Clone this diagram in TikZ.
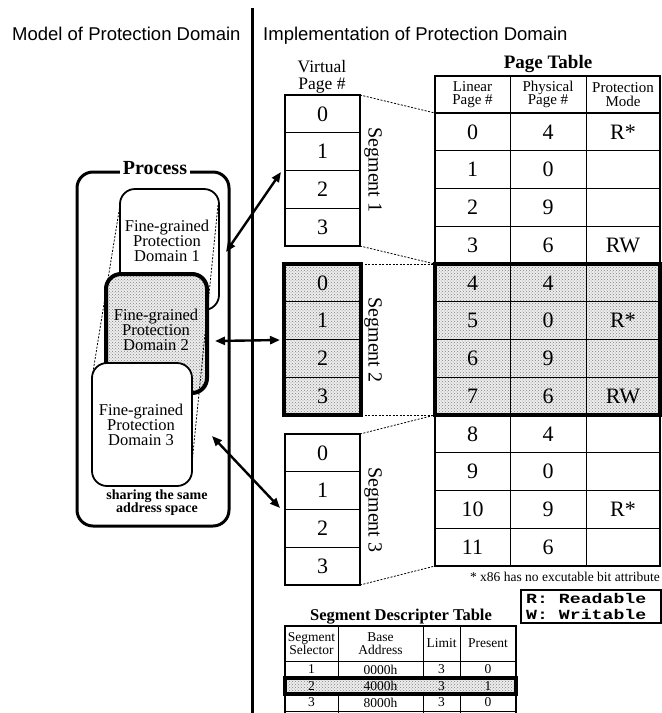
\documentclass[tikz,border=0pt]{standalone}
\usepackage{fontspec}
\setmainfont{Liberation Serif}
\setsansfont{Liberation Sans}
\setmonofont{Liberation Mono}
\newfontfamily\legfont[FakeStretch=1.3]{Liberation Mono}
\usetikzlibrary{arrows.meta,patterns}
\tikzset{
  ttl/.style={font=\sffamily\fontsize{18.5}{22}\selectfont, anchor=base west, inner sep=0pt},
  num/.style={font=\fontsize{22}{24}\selectfont, inner sep=0pt},
  hdr/.style={font=\fontsize{15}{13.5}\selectfont, align=center, inner sep=0pt},
  shd/.style={preaction={fill=black!7}, pattern=crosshatch dots, pattern color=black!50},
  conn/.style={line width=0.8pt, dash pattern=on 2pt off 1.5pt},
  thinline/.style={line width=0.9pt},
  biarrow/.style={line width=2.4pt, {Triangle[length=10pt,width=8pt]}-{Triangle[length=10pt,width=8pt]}},
  dom/.style={font=\fontsize{16.5}{15}\selectfont, align=center, inner sep=0pt},
  seglbl/.style={font=\fontsize{20}{22}\selectfont, rotate=-90, inner sep=0pt},
  sdt/.style={font=\fontsize{13.5}{12.5}\selectfont, align=center, inner sep=0pt},
  legtext/.style={font=\legfont\bfseries\fontsize{14}{16}\selectfont, anchor=base west, inner sep=0pt},
}
\begin{document}
\begin{tikzpicture}[x=1pt,y=-1pt]
\useasboundingbox (0,0) rectangle (662,713);
\clip (0,0) rectangle (662,713);

% titles and divider
\node[ttl] (t1) at (12,40) {Model of Protection Domain};
\node[ttl] (t2) at (263,40) {Implementation of Protection Domain};
\draw[line width=3pt] (252,8) -- (252,713);

% ---------------- left: process model
\draw[line width=3pt, rounded corners=16pt] (77,172) rectangle (229,526);
\node[fill=white, font=\bfseries\fontsize{20}{22}\selectfont, inner sep=3pt] (proc) at (155,168) {Process};

\draw[line width=1.8pt, rounded corners=15pt, fill=white] (120,189) rectangle (219,310);
\node[dom] (d1) at (167,241) {Fine-grained\\Protection\\Domain 1};
\draw[line width=4pt, rounded corners=15pt, shd] (106,274) rectangle (207,393);
\node[dom] (d2) at (156,330) {Fine-grained\\Protection\\Domain 2};
\coordinate (l1) at (120,205); \coordinate (l2) at (92,378);
\coordinate (r1) at (218,205); \coordinate (r2) at (192,463);
\draw[line width=0.8pt, dash pattern=on 2pt off 1.5pt] (l1) -- (l2);
\draw[line width=0.8pt, dash pattern=on 2pt off 1.5pt] (r1) -- (r2);
\draw[line width=1.8pt, rounded corners=15pt, fill=white] (92,363) rectangle (192,486);
\node[dom] (d3) at (141,425) {Fine-grained\\Protection\\Domain 3};
\node[font=\bfseries\fontsize{14}{13}\selectfont, align=center, inner sep=0pt] (share) at (157,503) {sharing the same\\address space};

% ---------------- virtual page segments
\node[font=\fontsize{17.5}{17}\selectfont, align=center, inner sep=0pt] (vp) at (322,77) {Virtual\\Page \#};

% segment 1
\draw[line width=1.8pt] (285,95) rectangle (360,246);
\foreach \i in {1,2,3} \draw[thinline] (285,{95+37.75*\i}) -- (360,{95+37.75*\i});
\foreach \i in {0,...,3} \node[num] (sa\i) at (322.5,{95+37.75*\i+18.9}) {\i};
\node[seglbl] (seg1) at (373,170) {Segment 1};

% segment 2
\path[shd] (284,264) rectangle (361,415);
\foreach \i in {1,2,3} \draw[thinline] (284,{264+37.75*\i}) -- (361,{264+37.75*\i});
\draw[line width=3.5pt] (284,264) rectangle (361,415);
\foreach \i in {0,...,3} \node[num] (sb\i) at (322.5,{264+37.75*\i+18.9}) {\i};
\node[seglbl] (seg2) at (373,340) {Segment 2};

% segment 3
\draw[line width=1.8pt] (285,434) rectangle (360,585);
\foreach \i in {1,2,3} \draw[thinline] (285,{434+37.75*\i}) -- (360,{434+37.75*\i});
\foreach \i in {0,...,3} \node[num] (sc\i) at (322.5,{434+37.75*\i+18.9}) {\i};
\node[seglbl] (seg3) at (373,510) {Segment 3};

% ---------------- page table
\node[font=\bfseries\fontsize{19}{21}\selectfont, inner sep=0pt] (ptt) at (548,64) {Page Table};
\path[shd] (435,264) rectangle (660,415);
\foreach \i in {1,...,11} \draw[thinline] (435,{113+37.75*\i}) -- (660,{113+37.75*\i});
\draw[thinline] (510,76) -- (510,566);
\draw[thinline] (586,76) -- (586,566);
\draw[line width=1.6pt] (435,113) -- (660,113);
\draw[line width=2pt] (435,76) rectangle (660,566);
\draw[line width=3.5pt] (435,264) rectangle (660,415);
\node[hdr] (h1) at (472.5,94.5) {Linear\\Page \#};
\node[hdr] (h2) at (548,94.5) {Physical\\Page \#};
\node[hdr] (h3) at (623,94.5) {Protection\\Mode};
\foreach \l/\p/\m [count=\k from 0] in {0/4/R*,1/0/,2/9/,3/6/RW,4/4/,5/0/R*,6/9/,7/6/RW,8/4/,9/0/,10/9/R*,11/6/} {
  \node[num] (pl\k) at (472.5,{113+37.75*\k+18.9}) {\l};
  \node[num] (pp\k) at (548,{113+37.75*\k+18.9}) {\p};
  \node[num] (pm\k) at (623,{113+37.75*\k+18.9}) {\m};
}

% dashed connectors
\coordinate (s1a) at (360,95);  \coordinate (p1a) at (435,113);
\coordinate (s1b) at (360,246); \coordinate (p1b) at (435,264);
\coordinate (s2a) at (361,264); \coordinate (s2b) at (361,415);
\coordinate (p2b) at (435,415);
\coordinate (s3a) at (360,434); \coordinate (s3b) at (360,585);
\coordinate (p3b) at (435,566);
\draw[conn] (s1a) -- (p1a);
\draw[conn] (s1b) -- (p1b);
\draw[conn] (s2a) -- (p1b);
\draw[conn] (s2b) -- (p2b);
\draw[conn] (s3a) -- (p2b);
\draw[conn] (s3b) -- (p3b);

% arrows
\coordinate (a1s) at (226,252); \coordinate (a1e) at (281,172);
\coordinate (a2s) at (215,341); \coordinate (a2e) at (280,340);
\coordinate (a3s) at (212,436); \coordinate (a3e) at (280,508);
\draw[biarrow] (a1s) -- (a1e);
\draw[biarrow] (a2s) -- (a2e);
\draw[biarrow] (a3s) -- (a3e);

% footnote and legend
\node[font=\fontsize{13.5}{15}\selectfont, anchor=base east, inner sep=0pt] (fn) at (660,581) {* x86 has no excutable bit attribute};
\draw[line width=2pt] (521,590) rectangle (661,623);
\node[legtext] (legR) at (526,603) {R: Readable};
\node[legtext] (legW) at (526,619) {W: Writable};

% segment descriptor table
\node[font=\bfseries\fontsize{16.5}{18}\selectfont, inner sep=0pt] (sdtt) at (401,617) {Segment Descripter Table};
\path[shd] (285,678) rectangle (516,694);
\draw[thinline] (285,661) -- (516,661);
\draw[thinline] (285,711) -- (516,711);
\foreach \x in {338,423,460} {
  \draw[thinline] (\x,626) -- (\x,678);
  \draw[thinline] (\x,694) -- (\x,716);
}
\draw[line width=2pt] (285,716) -- (285,626) -- (516,626) -- (516,716);
\draw[line width=3.5pt] (285,678) rectangle (516,694);
\node[sdt] (c1) at (311.5,643.5) {Segment\\Selector};
\node[sdt] (c2) at (380.5,643.5) {Base\\Address};
\node[sdt] (c3) at (441.5,643.5) {Limit};
\node[sdt] (c4) at (488,643.5) {Present};
\foreach \s/\b/\lm/\pr [count=\k] in {1/0000h/3/0,2/4000h/3/1,3/8000h/3/0} {
  \node[sdt] (r\k a) at (311.5,{661+16.5*(\k-1)+8.5}) {\s};
  \node[sdt] (r\k b) at (380.5,{661+16.5*(\k-1)+8.5}) {\b};
  \node[sdt] (r\k c) at (441.5,{661+16.5*(\k-1)+8.5}) {\lm};
  \node[sdt] (r\k d) at (488,{661+16.5*(\k-1)+8.5}) {\pr};
}
\end{tikzpicture}
\end{document}
